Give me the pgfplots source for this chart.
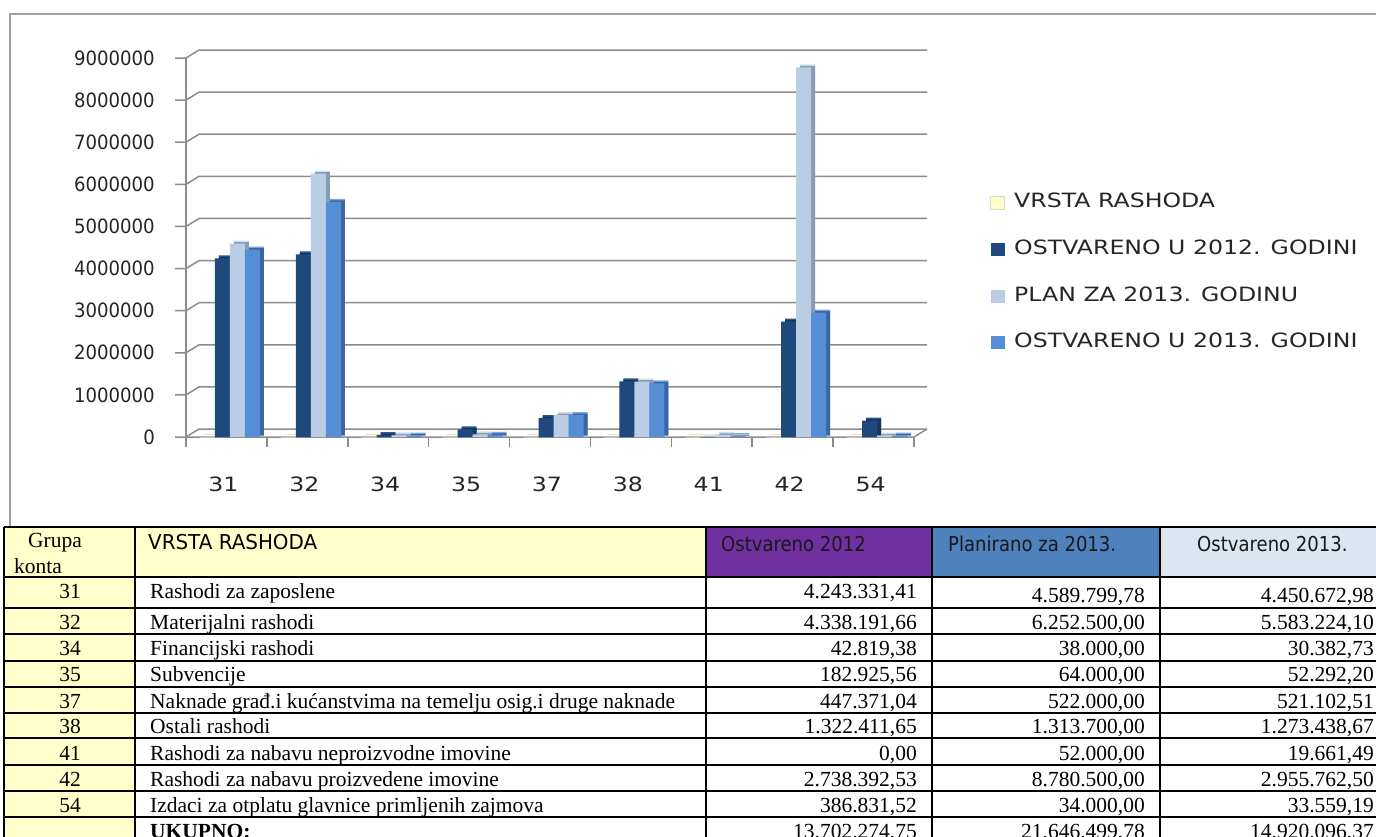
\documentclass[border=0pt]{standalone}
\usepackage{fontspec}
\usepackage{pgfplots}
\usepackage{pgfplotstable}
\pgfplotsset{compat=1.18}
\setmainfont{Liberation Serif}
\newfontfamily\chartfont[FakeStretch=1.2]{DejaVu Sans}
\newfontfamily\yfont[FakeStretch=0.92]{DejaVu Sans}
\newfontfamily\hdrfont[FakeStretch=0.88]{DejaVu Sans}
\newfontfamily\hdrwfont[FakeStretch=0.97]{DejaVu Sans}
\newfontfamily\tabfont{Liberation Serif}

\definecolor{c12}{HTML}{1F497D}
\definecolor{c12s}{HTML}{16365E}
\definecolor{c12t}{HTML}{2A5590}
\definecolor{p13}{HTML}{B9CDE5}
\definecolor{p13s}{HTML}{8A9CB4}
\definecolor{p13t}{HTML}{D3DFEE}
\definecolor{v13}{HTML}{558ED5}
\definecolor{v13s}{HTML}{3A67A0}
\definecolor{v13t}{HTML}{78A6E0}
\definecolor{yel}{HTML}{FFFFCC}
\definecolor{yels}{HTML}{DEDDB8}
\definecolor{gridc}{HTML}{8C8C8C}
\definecolor{tyel}{HTML}{FFFFCC}
\definecolor{tpur}{HTML}{7030A0}
\definecolor{tblu}{HTML}{4F81BD}
\definecolor{tlig}{HTML}{DCE6F1}

\pgfplotstableread{
x z v12 p13 v13
0 0 4243331.41 4589799.78 4450672.98
1 0 4338191.66 6252500.00 5583224.10
2 0 42819.38 38000.00 30382.73
3 0 182925.56 64000.00 52292.20
4 0 447371.04 522000.00 521102.51
5 0 1322411.65 1313700.00 1273438.67
6 0 0.00 52000.00 19661.49
7 0 2738392.53 8780500.00 2955762.50
8 0 386831.52 34000.00 33559.19
}\datatable

\newcommand{\cf}{\chartfont\fontsize{19.7}{22}\selectfont}
\newcommand{\yf}{\yfont\fontsize{19.7}{22}\selectfont}
\newcommand{\tf}{\tabfont\fontsize{21.5}{24}\selectfont}
\newcommand{\hf}{\hdrfont\fontsize{20.5}{24}\selectfont}
\newcommand{\hwf}{\hdrwfont\fontsize{20.5}{24}\selectfont}

\pgfplotsset{sq legend/.style={legend image code/.code={\fill[##1] (0pt,-6.5pt) rectangle (14pt,6.5pt);}}}

\begin{document}
\begin{tikzpicture}
\useasboundingbox (0pt,0pt) rectangle (1376pt,-836pt);
\fill[white] (0pt,0pt) rectangle (1376pt,-836pt);
% chart frame
\draw[gray!75, line width=1.5pt] (10pt,-530pt) -- (10pt,-14pt) -- (1390pt,-14pt);

\begin{axis}[
  at={(186pt,-437pt)}, anchor=south west,
  scale only axis, width=728pt, height=379pt,
  xmin=-0.5, xmax=8.5, ymin=0, ymax=9000000,
  clip=false,
  axis line style={draw=none},
  tick style={draw=none},
  xtick={0,1,2,3,4,5,6,7,8},
  xticklabels={31,32,34,35,37,38,41,42,54},
  ytick={0,1000000,2000000,3000000,4000000,5000000,6000000,7000000,8000000,9000000},
  yticklabels={0,1000000,2000000,3000000,4000000,5000000,6000000,7000000,8000000,9000000},
  scaled y ticks=false,
  xticklabel style={font=\cf, anchor=center, inner sep=0pt, yshift=-43pt, xshift=-3pt},
  yticklabel style={font=\yf, anchor=east, inner sep=0pt, xshift=-31pt},
  tick label style={text=black!85},
  ybar=0pt, bar width=15pt,
  legend cell align=left,
  legend style={at={(1.1044,0.6425)}, anchor=north west, draw=none, fill=none, inner sep=0pt,
    font=\cf, text=black!85, row sep=28.7pt,
    nodes={inner sep=0pt, text height=14pt, text depth=4pt, anchor=west},
    /tikz/every odd column/.append style={column sep=9pt}},
]
% back grid and left wall
\pgfplotsinvokeforeach{0,1,2,3,4,5,6,7,8,9}{
  \draw[gridc, line width=1.5pt] ([xshift=-11pt]axis cs:-0.5,#1000000) -- (axis cs:-0.5,#1000000) -- ([shift={(13pt,8pt)}]axis cs:-0.5,#1000000) -- ([shift={(13pt,8pt)}]axis cs:8.5,#1000000);
}
\draw[gridc, line width=1.5pt] ([yshift=-10pt]axis cs:-0.5,0) -- (axis cs:-0.5,9000000);
\draw[gridc, line width=1.5pt] (axis cs:-0.5,0) -- (axis cs:8.5,0) -- ([shift={(13pt,8pt)}]axis cs:8.5,0);
\pgfplotsinvokeforeach{-0.5,0.5,1.5,2.5,3.5,4.5,5.5,6.5,7.5,8.5}{
  \draw[gridc, line width=1.5pt] (axis cs:#1,0) -- ([yshift=-10pt]axis cs:#1,0);
}
% depth of bars: top faces (shifted up and right)
\addplot[forget plot, fill=yels, draw=yels, line width=1pt, bar shift=-19pt, xshift=4pt, yshift=3pt] table[x=x,y=z]{\datatable};
\addplot[forget plot, fill=c12t, draw=none, bar shift=-4pt, xshift=4pt, yshift=3pt] table[x=x,y=v12]{\datatable};
\addplot[forget plot, fill=p13t, draw=none, bar shift=11pt, xshift=4pt, yshift=3pt] table[x=x,y=p13]{\datatable};
\addplot[forget plot, fill=v13t, draw=none, bar shift=26pt, xshift=4pt, yshift=3pt] table[x=x,y=v13]{\datatable};
% depth of bars: side faces (shifted right)
\addplot[forget plot, fill=c12s, draw=none, bar shift=-4pt, xshift=4pt, yshift=1.5pt] table[x=x,y=v12]{\datatable};
\addplot[forget plot, fill=p13s, draw=none, bar shift=11pt, xshift=4pt, yshift=1.5pt] table[x=x,y=p13]{\datatable};
\addplot[forget plot, fill=v13s, draw=none, bar shift=26pt, xshift=4pt, yshift=1.5pt] table[x=x,y=v13]{\datatable};
% front faces
\addplot[sq legend, fill=yel, draw=yels, line width=1pt, bar shift=-19pt] table[x=x,y=z]{\datatable};
\addlegendentry{VRSTA RASHODA}
\addplot[sq legend, fill=c12, draw=none, bar shift=-4pt] table[x=x,y=v12]{\datatable};
\addlegendentry{OSTVARENO U 2012. GODINI}
\addplot[sq legend, fill=p13, draw=none, bar shift=11pt] table[x=x,y=p13]{\datatable};
\addlegendentry{PLAN ZA 2013. GODINU}
\addplot[sq legend, fill=v13, draw=none, bar shift=26pt] table[x=x,y=v13]{\datatable};
\addlegendentry{OSTVARENO U 2013. GODINI}
\end{axis}

% ---------------- table ----------------
\begin{scope}[x=1pt,y=-1pt]
\fill[tyel] (4,527) rectangle (135,845);
\fill[tyel] (135,527) rectangle (706,577);
\fill[tpur] (706,527) rectangle (932,577);
\fill[tblu] (932,527) rectangle (1160,577);
\fill[tlig] (1160,527) rectangle (1392,577);
\foreach \yy in {527,577,608,634,661,687,713,738,765,791,817}{
  \draw[black, line width=1.6pt] (4,\yy) -- (1392,\yy);
}
\foreach \xx in {4,135,706,932,1160}{
  \draw[black, line width=1.6pt] (\xx,527) -- (\xx,845);
}
% header
\node[anchor=base west, inner sep=0pt] at (28,547) {\tf Grupa};
\node[anchor=base west, inner sep=0pt] at (14,573) {\tf konta};
\node[anchor=base west, inner sep=0pt] at (148,549) {\hwf VRSTA RASHODA};
\node[anchor=base west, inner sep=0pt, text=black!90] at (721,551) {\hf Ostvareno 2012};
\node[anchor=base west, inner sep=0pt, text=black!90] at (948,551) {\hf Planirano za 2013.};
\node[anchor=base west, inner sep=0pt, text=black!90] at (1197,551) {\hf Ostvareno 2013.};
% rows
\foreach \b/\g/\n/\a/\p/\o/\d in {
  598/31/{Rashodi za zaposlene}/{4.243.331,41}/{4.589.799,78}/{4.450.672,98}/4,
  629/32/{Materijalni rashodi}/{4.338.191,66}/{6.252.500,00}/{5.583.224,10}/0,
  655/34/{Financijski rashodi}/{42.819,38}/{38.000,00}/{30.382,73}/0,
  681/35/{Subvencije}/{182.925,56}/{64.000,00}/{52.292,20}/0,
  708/37/{Naknade građ.i kućanstvima na temelju osig.i druge naknade}/{447.371,04}/{522.000,00}/{521.102,51}/0,
  733/38/{Ostali rashodi}/{1.322.411,65}/{1.313.700,00}/{1.273.438,67}/0,
  760/41/{Rashodi za nabavu neproizvodne imovine}/{0,00}/{52.000,00}/{19.661,49}/0,
  786/42/{Rashodi za nabavu proizvedene imovine}/{2.738.392,53}/{8.780.500,00}/{2.955.762,50}/0,
  812/54/{Izdaci za otplatu glavnice primljenih zajmova}/{386.831,52}/{34.000,00}/{33.559,19}/0}{
  \node[anchor=base, inner sep=0pt] at (70,\b) {\tf \g};
  \node[anchor=base west, inner sep=0pt] at (150,\b) {\tf \n};
  \node[anchor=base east, inner sep=0pt] at (917,\b) {\tf \a};
  \node[anchor=base east, inner sep=0pt] at (1145,\b+\d) {\tf \p};
  \node[anchor=base east, inner sep=0pt] at (1374,\b+\d) {\tf \o};
}
\node[anchor=base west, inner sep=0pt] at (150,838) {\tf\bfseries UKUPNO:};
\node[anchor=base east, inner sep=0pt] at (917,838) {\tf 13.702.274,75};
\node[anchor=base east, inner sep=0pt] at (1145,838) {\tf 21.646.499,78};
\node[anchor=base east, inner sep=0pt] at (1374,838) {\tf 14.920.096,37};
\end{scope}
\end{tikzpicture}
\end{document}
